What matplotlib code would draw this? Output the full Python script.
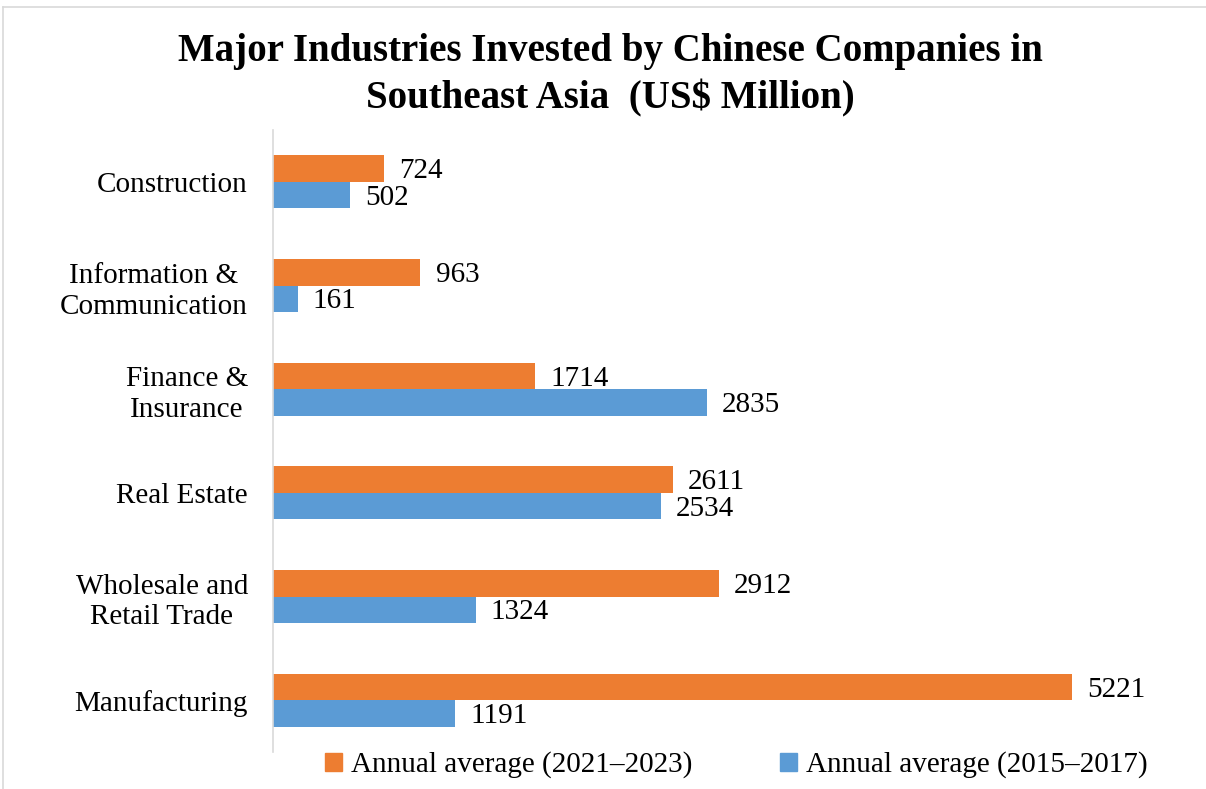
import matplotlib.pyplot as plt
import numpy as np
from matplotlib.lines import Line2D
from matplotlib.patches import Patch

# data, bottom to top
industries = ['Manufacturing', 'Wholesale and\nRetail Trade', 'Real Estate',
              'Finance &\nInsurance', 'Information &\nCommunication', 'Construction']
avg_2021_2023 = [5221, 2912, 2611, 1714, 963, 724]
avg_2015_2017 = [1191, 1324, 2534, 2835, 161, 502]
series_names = ['Annual average (2021\u20132023)', 'Annual average (2015\u20132017)']

orange = '#ED7D31'
blue = '#5B9BD5'

plt.rcParams['font.family'] = ['Liberation Serif', 'DejaVu Serif']

W, H = 1206, 789
fig = plt.figure(figsize=(W / 100, H / 100), dpi=100)

# axes placed in pixels
ax_left, ax_right, ax_top, ax_bottom = 273, 1150, 130, 752
ax = fig.add_axes([ax_left / W, 1 - ax_bottom / H,
                   (ax_right - ax_left) / W, (ax_bottom - ax_top) / H])

scale = (1072 - 273) / 5221  # px per unit
ax.set_xlim(0, (ax_right - ax_left) / scale)
ax.set_ylim(-0.5, len(industries) - 0.5)

y = np.arange(len(industries))
h = 0.255
ax.barh(y + h / 2, avg_2021_2023, height=h, color=orange)
ax.barh(y - h / 2, avg_2015_2017, height=h, color=blue)

fs = 21
for yi, v in zip(y, avg_2021_2023):
    ax.annotate(str(v), (v, yi + h / 2), xytext=(11, -2), textcoords='offset points',
                va='center', ha='left', fontsize=fs)
for yi, v in zip(y, avg_2015_2017):
    ax.annotate(str(v), (v, yi - h / 2), xytext=(11, -2), textcoords='offset points',
                va='center', ha='left', fontsize=fs)

ax.set_yticks(y)
ax.set_yticklabels(industries, fontsize=fs, multialignment='center', linespacing=1.25)
ax.tick_params(axis='y', length=0, pad=18)
ax.set_xticks([])
for s in ['top', 'right', 'bottom']:
    ax.spines[s].set_visible(False)
ax.spines['left'].set_color('#D9D9D9')
ax.spines['left'].set_linewidth(1.2)

fig.text(610 / W, 1 - 52 / H, 'Major Industries Invested by Chinese Companies in',
         ha='center', va='center', fontsize=28, fontweight='bold')
fig.text(610 / W, 1 - 98 / H, 'Southeast Asia  (US$ Million)',
         ha='center', va='center', fontsize=28, fontweight='bold')

handles = [Patch(color=orange), Patch(color=blue)]
fig.legend(handles, series_names, loc='center', bbox_to_anchor=(736 / W, 1 - 765 / H),
           ncol=2, frameon=False, fontsize=fs, handlelength=0.6, handleheight=0.6,
           handletextpad=0.3, columnspacing=3.0)

# light frame lines
fig.add_artist(Line2D([3 / W, 1], [1 - 7 / H, 1 - 7 / H], color='#D9D9D9', lw=1.2))
fig.add_artist(Line2D([3 / W, 3 / W], [0, 1 - 7 / H], color='#D9D9D9', lw=1.2))

fig.savefig('out.png', dpi=100)
